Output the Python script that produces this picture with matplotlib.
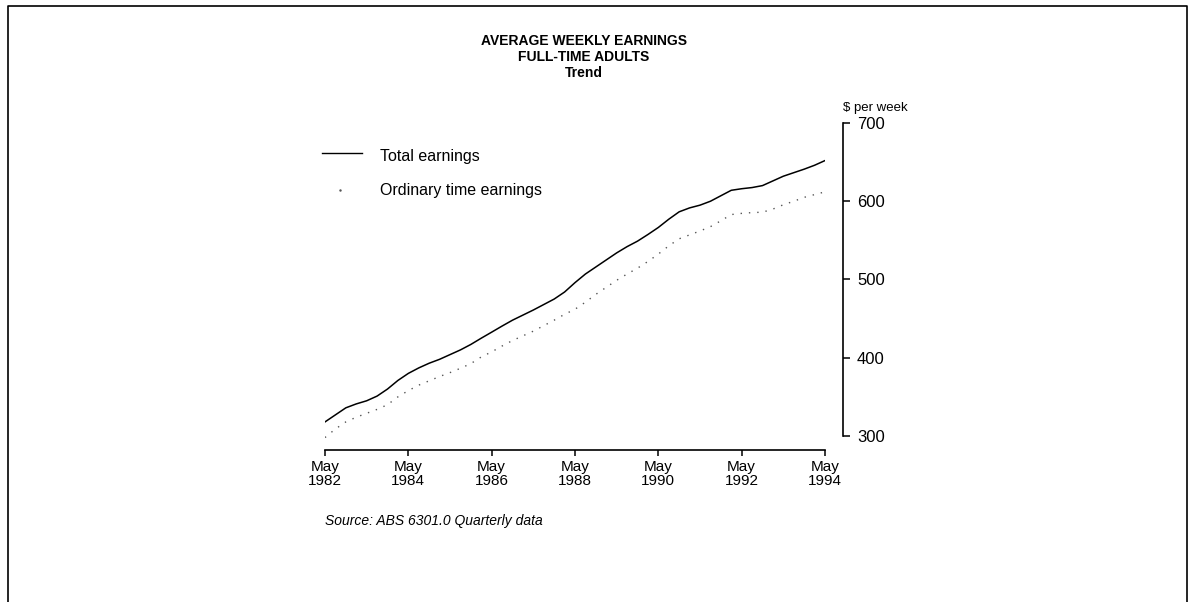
import numpy as np
import matplotlib
matplotlib.use("Agg")
from matplotlib import pyplot as plt

plt.rcParams['font.family'] = ['Liberation Sans', 'DejaVu Sans']

# quarterly trend series, May 1982 to May 1994 ($ per week)
quarters = 1982 + 4 / 12 + 0.25 * np.arange(49)
total_earnings = [
    318, 327, 336, 341, 345, 351, 360, 371, 380, 387,
    393, 398, 404, 410, 417, 425, 432.7, 440.5, 448, 454.5,
    461, 468, 475, 484, 496, 507, 516, 525, 534, 542,
    549, 557.5, 566.5, 577, 586.5, 591.5, 595, 600, 607, 614,
    616, 617.5, 620, 626, 632, 636.5, 641, 646, 652,
]
ordinary_time = [
    298, 309, 318, 324, 329, 334, 340, 350, 358, 365,
    370.5, 376, 381, 386.5, 392.5, 401, 407.5, 415, 422, 428,
    434, 441, 448, 455.5, 462, 471, 481, 490, 499, 507,
    514.5, 523, 532.5, 543, 552, 557, 562, 567.5, 575, 583,
    584.5, 585.5, 586, 590, 595.5, 600, 605, 608.5, 612,
]
tick_years = [1982, 1984, 1986, 1988, 1990, 1992, 1994]
y_ticks = [300, 400, 500, 600, 700]

W, H = 1191, 602
fig = plt.figure(figsize=(W / 100, H / 100), dpi=100)
ax = fig.add_axes([325 / W, 1 - 450 / H, 500 / W, 327 / H])

ax.plot(quarters, total_earnings, color='black', lw=1.1)
ax.plot(quarters, ordinary_time, color='#555555', lw=1.0,
        linestyle=(0, (1, 5)))

x0 = 1982 + 4 / 12
x1 = 1994 + 4 / 12
ax.set_xlim(x0, x1)
ax.set_ylim(282.1, 700)

for side in ['top', 'left']:
    ax.spines[side].set_visible(False)
ax.spines['bottom'].set_bounds(x0, x1)
ax.spines['right'].set_bounds(300, 700)
ax.spines['right'].set_position(('outward', 13))
ax.spines['bottom'].set_linewidth(1.2)
ax.spines['right'].set_linewidth(1.2)

ax.set_xticks([y + 4 / 12 for y in tick_years])
ax.set_xticklabels([f"May\n{y}" for y in tick_years], fontsize=11,
                   linespacing=1.0)
ax.yaxis.tick_right()
ax.set_yticks(y_ticks)
ax.set_yticklabels([str(v) for v in y_ticks], fontsize=12)
ax.tick_params(axis='x', direction='out', length=4, width=1.1, pad=3)
ax.tick_params(axis='y', direction='out', length=5, width=1.1, pad=5)

# title block
fig.text(584 / W, 1 - 34 / H, "AVERAGE WEEKLY EARNINGS\nFULL-TIME ADULTS\nTrend",
         ha='center', va='top', fontsize=10, fontweight='bold',
         linespacing=1.2)
fig.text(843 / W, 1 - 108 / H, "$ per week", ha='left', va='center',
         fontsize=9.5)

# legend drawn by hand
fig.add_artist(plt.Line2D([322 / W, 362 / W], [1 - 153 / H, 1 - 153 / H],
                          color='black', lw=1.0))
fig.add_artist(plt.Line2D([340 / W], [1 - 190 / H], marker='.',
                          markersize=1.5, color='#555555', lw=0))
fig.text(380 / W, 1 - 157 / H, "Total earnings", ha='left', va='center',
         fontsize=11.5)
fig.text(380 / W, 1 - 191 / H, "Ordinary time earnings", ha='left',
         va='center', fontsize=11.5)

fig.text(325 / W, 1 - 521 / H, "Source: ABS 6301.0 Quarterly data",
         ha='left', va='center', fontsize=10, style='italic')

# page frame
frame_x = [8 / W, 8 / W, 1187 / W, 1187 / W]
frame_y = [0, 1 - 6 / H, 1 - 6 / H, 0]
fig.add_artist(plt.Line2D(frame_x, frame_y, color='black', lw=1.2))

fig.savefig("out.png", dpi=100)
